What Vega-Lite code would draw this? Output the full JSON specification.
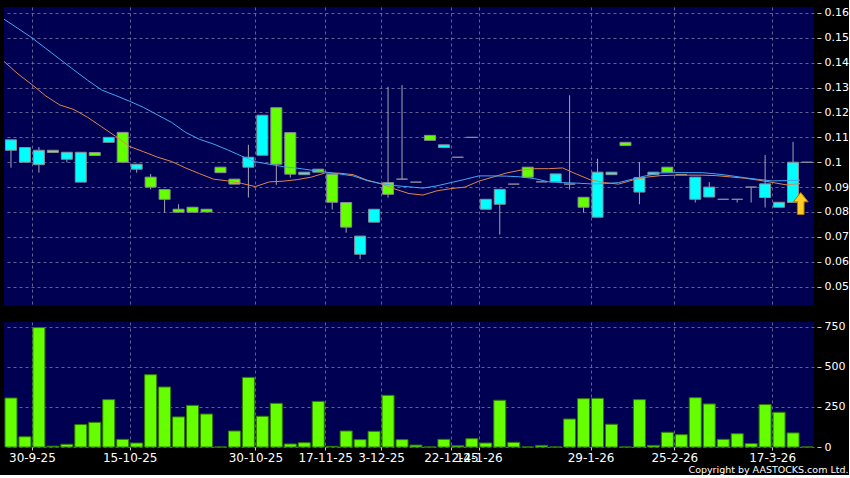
{
  "$schema": "https://vega.github.io/schema/vega-lite/v6.json",
  "background": "#000000",
  "padding": {"left": 4, "top": 6, "right": 0, "bottom": 0},
  "autosize": {"type": "pad"},
  "config": {
    "view": {"fill": "#000052", "stroke": null},
    "font": "DejaVu Sans",
    "axis": {
      "labelColor": "#ffffff",
      "labelFont": "DejaVu Sans",
      "tickColor": "#c8c8c8",
      "domain": false,
      "gridColor": "#8080a8",
      "gridDash": [3, 3],
      "gridOpacity": 0.75,
      "title": null
    }
  },
  "title": {
    "text": "Copyright by AASTOCKS.com Ltd.",
    "orient": "bottom",
    "anchor": "end",
    "color": "#ffffff",
    "font": "DejaVu Sans",
    "fontSize": 9.5,
    "fontWeight": "normal",
    "offset": 2
  },
  "datasets": {
    "candles": [
      {"i": 0, "o": 0.1048, "h": 0.1090, "l": 0.0978, "c": 0.1090, "v": 306},
      {"i": 1, "o": 0.1000, "h": 0.1059, "l": 0.1000, "c": 0.1059, "v": 64},
      {"i": 2, "o": 0.0990, "h": 0.1061, "l": 0.0958, "c": 0.1048, "v": 746},
      {"i": 3, "o": 0.1048, "h": 0.1048, "l": 0.1039, "c": 0.1039, "v": 5},
      {"i": 4, "o": 0.1012, "h": 0.1040, "l": 0.1000, "c": 0.1040, "v": 17},
      {"i": 5, "o": 0.0920, "h": 0.1040, "l": 0.0920, "c": 0.1040, "v": 140},
      {"i": 6, "o": 0.1039, "h": 0.1039, "l": 0.1027, "c": 0.1027, "v": 154},
      {"i": 7, "o": 0.1080, "h": 0.1100, "l": 0.1080, "c": 0.1100, "v": 296},
      {"i": 8, "o": 0.1120, "h": 0.1120, "l": 0.1000, "c": 0.1000, "v": 48},
      {"i": 9, "o": 0.0972, "h": 0.0992, "l": 0.0958, "c": 0.0992, "v": 25},
      {"i": 10, "o": 0.0940, "h": 0.0953, "l": 0.0891, "c": 0.0900, "v": 452},
      {"i": 11, "o": 0.0890, "h": 0.0890, "l": 0.0797, "c": 0.0851, "v": 375},
      {"i": 12, "o": 0.0811, "h": 0.0831, "l": 0.0799, "c": 0.0799, "v": 188},
      {"i": 13, "o": 0.0819, "h": 0.0819, "l": 0.0799, "c": 0.0799, "v": 260},
      {"i": 14, "o": 0.0811, "h": 0.0811, "l": 0.0800, "c": 0.0800, "v": 206},
      {"i": 15, "o": 0.0980, "h": 0.0980, "l": 0.0958, "c": 0.0958, "v": 0},
      {"i": 16, "o": 0.0932, "h": 0.0932, "l": 0.0912, "c": 0.0912, "v": 100},
      {"i": 17, "o": 0.0980, "h": 0.1070, "l": 0.0858, "c": 0.1020, "v": 435},
      {"i": 18, "o": 0.1028, "h": 0.1189, "l": 0.1028, "c": 0.1189, "v": 192},
      {"i": 19, "o": 0.1219, "h": 0.1219, "l": 0.0909, "c": 0.0992, "v": 273},
      {"i": 20, "o": 0.1119, "h": 0.1119, "l": 0.0938, "c": 0.0952, "v": 19},
      {"i": 21, "o": 0.0950, "h": 0.0960, "l": 0.0950, "c": 0.0960, "v": 27},
      {"i": 22, "o": 0.0972, "h": 0.0972, "l": 0.0960, "c": 0.0960, "v": 285},
      {"i": 23, "o": 0.0952, "h": 0.0952, "l": 0.0810, "c": 0.0839, "v": 4},
      {"i": 24, "o": 0.0838, "h": 0.0838, "l": 0.0717, "c": 0.0739, "v": 100},
      {"i": 25, "o": 0.0630, "h": 0.0703, "l": 0.0610, "c": 0.0703, "v": 46},
      {"i": 26, "o": 0.0759, "h": 0.0811, "l": 0.0759, "c": 0.0811, "v": 98},
      {"i": 27, "o": 0.0918, "h": 0.1303, "l": 0.0858, "c": 0.0871, "v": 323},
      {"i": 28, "o": 0.0932, "h": 0.1310, "l": 0.0932, "c": 0.0932, "v": 46},
      {"i": 29, "o": 0.0920, "h": 0.0920, "l": 0.0920, "c": 0.0920, "v": 12},
      {"i": 30, "o": 0.1108, "h": 0.1108, "l": 0.1088, "c": 0.1088, "v": 0},
      {"i": 31, "o": 0.1059, "h": 0.1070, "l": 0.1059, "c": 0.1070, "v": 48},
      {"i": 32, "o": 0.1020, "h": 0.1020, "l": 0.1020, "c": 0.1020, "v": 8},
      {"i": 33, "o": 0.1100, "h": 0.1100, "l": 0.1100, "c": 0.1100, "v": 52},
      {"i": 34, "o": 0.0811, "h": 0.0851, "l": 0.0811, "c": 0.0851, "v": 25},
      {"i": 35, "o": 0.0831, "h": 0.0891, "l": 0.0709, "c": 0.0891, "v": 292},
      {"i": 36, "o": 0.0912, "h": 0.0912, "l": 0.0912, "c": 0.0912, "v": 29},
      {"i": 37, "o": 0.0980, "h": 0.0980, "l": 0.0940, "c": 0.0940, "v": 0},
      {"i": 38, "o": 0.0921, "h": 0.0921, "l": 0.0921, "c": 0.0921, "v": 10},
      {"i": 39, "o": 0.0921, "h": 0.0953, "l": 0.0921, "c": 0.0953, "v": 0},
      {"i": 40, "o": 0.0912, "h": 0.1269, "l": 0.0890, "c": 0.0912, "v": 175},
      {"i": 41, "o": 0.0859, "h": 0.0859, "l": 0.0797, "c": 0.0819, "v": 302},
      {"i": 42, "o": 0.0779, "h": 0.1014, "l": 0.0779, "c": 0.0960, "v": 304},
      {"i": 43, "o": 0.0950, "h": 0.0960, "l": 0.0950, "c": 0.0960, "v": 142},
      {"i": 44, "o": 0.1080, "h": 0.1080, "l": 0.1067, "c": 0.1067, "v": 0},
      {"i": 45, "o": 0.0880, "h": 0.1001, "l": 0.0831, "c": 0.0938, "v": 296},
      {"i": 46, "o": 0.0950, "h": 0.0960, "l": 0.0950, "c": 0.0960, "v": 10},
      {"i": 47, "o": 0.0980, "h": 0.0980, "l": 0.0960, "c": 0.0960, "v": 92},
      {"i": 48, "o": 0.0950, "h": 0.0950, "l": 0.0950, "c": 0.0950, "v": 77},
      {"i": 49, "o": 0.0851, "h": 0.0940, "l": 0.0838, "c": 0.0940, "v": 308},
      {"i": 50, "o": 0.0860, "h": 0.0920, "l": 0.0860, "c": 0.0900, "v": 269},
      {"i": 51, "o": 0.0851, "h": 0.0851, "l": 0.0851, "c": 0.0851, "v": 48},
      {"i": 52, "o": 0.0851, "h": 0.0851, "l": 0.0838, "c": 0.0851, "v": 83},
      {"i": 53, "o": 0.0900, "h": 0.0900, "l": 0.0838, "c": 0.0900, "v": 21},
      {"i": 54, "o": 0.0858, "h": 0.1029, "l": 0.0818, "c": 0.0913, "v": 265},
      {"i": 55, "o": 0.0819, "h": 0.0839, "l": 0.0819, "c": 0.0839, "v": 217},
      {"i": 56, "o": 0.0838, "h": 0.1082, "l": 0.0838, "c": 0.1000, "v": 88},
      {"i": 57, "o": 0.1000, "h": 0.1000, "l": 0.1000, "c": 0.1000, "v": 0}
    ],
    "ma": [
      {"i": -1, "ma10": 0.1405, "ma20": 0.1575},
      {"i": 0, "ma10": 0.1355, "ma20": 0.1538},
      {"i": 1, "ma10": 0.1312, "ma20": 0.1500},
      {"i": 2, "ma10": 0.1266, "ma20": 0.1457},
      {"i": 3, "ma10": 0.1230, "ma20": 0.1414},
      {"i": 4, "ma10": 0.1212, "ma20": 0.1371},
      {"i": 5, "ma10": 0.1180, "ma20": 0.1329},
      {"i": 6, "ma10": 0.1142, "ma20": 0.1290},
      {"i": 7, "ma10": 0.1104, "ma20": 0.1268},
      {"i": 8, "ma10": 0.1063, "ma20": 0.1245},
      {"i": 9, "ma10": 0.1042, "ma20": 0.1220},
      {"i": 10, "ma10": 0.1020, "ma20": 0.1190},
      {"i": 11, "ma10": 0.1003, "ma20": 0.1160},
      {"i": 12, "ma10": 0.0977, "ma20": 0.1120},
      {"i": 13, "ma10": 0.0954, "ma20": 0.1092},
      {"i": 14, "ma10": 0.0932, "ma20": 0.1073},
      {"i": 15, "ma10": 0.0925, "ma20": 0.1050},
      {"i": 16, "ma10": 0.0915, "ma20": 0.1025},
      {"i": 17, "ma10": 0.0902, "ma20": 0.1002},
      {"i": 18, "ma10": 0.0921, "ma20": 0.0992},
      {"i": 19, "ma10": 0.0924, "ma20": 0.0982},
      {"i": 20, "ma10": 0.0930, "ma20": 0.0976},
      {"i": 21, "ma10": 0.0940, "ma20": 0.0968},
      {"i": 22, "ma10": 0.0957, "ma20": 0.0961},
      {"i": 23, "ma10": 0.0956, "ma20": 0.0953},
      {"i": 24, "ma10": 0.0950, "ma20": 0.0945},
      {"i": 25, "ma10": 0.0928, "ma20": 0.0926},
      {"i": 26, "ma10": 0.0913, "ma20": 0.0914},
      {"i": 27, "ma10": 0.0892, "ma20": 0.0906},
      {"i": 28, "ma10": 0.0874, "ma20": 0.0901},
      {"i": 29, "ma10": 0.0868, "ma20": 0.0896},
      {"i": 30, "ma10": 0.0885, "ma20": 0.0905},
      {"i": 31, "ma10": 0.0894, "ma20": 0.0918},
      {"i": 32, "ma10": 0.0900, "ma20": 0.0931},
      {"i": 33, "ma10": 0.0924, "ma20": 0.0945},
      {"i": 34, "ma10": 0.0940, "ma20": 0.0945},
      {"i": 35, "ma10": 0.0957, "ma20": 0.0944},
      {"i": 36, "ma10": 0.0968, "ma20": 0.0941},
      {"i": 37, "ma10": 0.0974, "ma20": 0.0934},
      {"i": 38, "ma10": 0.0974, "ma20": 0.0921},
      {"i": 39, "ma10": 0.0977, "ma20": 0.0918},
      {"i": 40, "ma10": 0.0952, "ma20": 0.0916},
      {"i": 41, "ma10": 0.0929, "ma20": 0.0913},
      {"i": 42, "ma10": 0.0918, "ma20": 0.0914},
      {"i": 43, "ma10": 0.0912, "ma20": 0.0918},
      {"i": 44, "ma10": 0.0928, "ma20": 0.0932},
      {"i": 45, "ma10": 0.0940, "ma20": 0.0946},
      {"i": 46, "ma10": 0.0946, "ma20": 0.0957},
      {"i": 47, "ma10": 0.0948, "ma20": 0.0958},
      {"i": 48, "ma10": 0.0948, "ma20": 0.0958},
      {"i": 49, "ma10": 0.0948, "ma20": 0.0958},
      {"i": 50, "ma10": 0.0946, "ma20": 0.0953},
      {"i": 51, "ma10": 0.0941, "ma20": 0.0946},
      {"i": 52, "ma10": 0.0936, "ma20": 0.0938},
      {"i": 53, "ma10": 0.0928, "ma20": 0.0931},
      {"i": 54, "ma10": 0.0919, "ma20": 0.0925},
      {"i": 55, "ma10": 0.0909, "ma20": 0.0926},
      {"i": 56, "ma10": 0.0914, "ma20": 0.0928}
    ],
    "arrow": [{"i": 56.55, "price": 0.0834}]
  },
  "spacing": 14,
  "vconcat": [
    {
      "width": 810,
      "height": 299,
      "layer": [
        {
          "data": {"name": "candles"},
          "mark": {"type": "rule", "color": "#a4a4b4", "strokeWidth": 1},
          "encoding": {
            "x": {
              "field": "i",
              "type": "quantitative",
              "scale": {"domain": [-0.5, 57.5], "nice": false, "zero": false, "padding": 0},
              "axis": {
                "values": [1.5, 8.5, 17.5, 22.5, 26.5, 31.5, 33.5, 41.5, 47.5, 54.5],
                "tickCount": 30,
                "labels": false,
                "ticks": false,
                "grid": true
              }
            },
            "y": {
              "field": "l",
              "type": "quantitative",
              "scale": {"domain": [0.0422, 0.1624], "nice": false, "zero": false},
              "axis": {
                "orient": "right",
                "values": [0.05, 0.06, 0.07, 0.08, 0.09, 0.1, 0.11, 0.12, 0.13, 0.14, 0.15, 0.16],
                "tickCount": 30,
                "format": "~g",
                "grid": true,
                "offset": 3,
                "tickSize": 4,
                "labelPadding": 3,
                "labelFontSize": 11,
                "labelOverlap": false,
                "labelBound": false,
                "labelFlush": false
              }
            },
            "y2": {"field": "h"}
          }
        },
        {
          "data": {"name": "candles"},
          "mark": {"type": "bar", "size": 11, "stroke": "#8c8c96", "strokeWidth": 1},
          "encoding": {
            "x": {"field": "i", "type": "quantitative"},
            "y": {"field": "o", "type": "quantitative"},
            "y2": {"field": "c"},
            "fill": {
              "condition": [
                {"test": "datum.c > datum.o", "value": "#00ffff"},
                {"test": "datum.c < datum.o", "value": "#66ff00"}
              ],
              "value": "#b4b4c0"
            }
          }
        },
        {
          "data": {"name": "ma"},
          "mark": {"type": "line", "color": "#e0844c", "strokeWidth": 1, "xOffset": 7, "clip": true},
          "encoding": {
            "x": {"field": "i", "type": "quantitative"},
            "y": {"field": "ma10", "type": "quantitative"}
          }
        },
        {
          "data": {"name": "ma"},
          "mark": {"type": "line", "color": "#3fa9f5", "strokeWidth": 1, "xOffset": 7, "clip": true},
          "encoding": {
            "x": {"field": "i", "type": "quantitative"},
            "y": {"field": "ma20", "type": "quantitative"}
          }
        },
        {
          "data": {"name": "arrow"},
          "mark": {
            "type": "point",
            "shape": "M0,-1L0.68,-0.15L0.3,-0.15L0.3,1L-0.3,1L-0.3,-0.15L-0.68,-0.15Z",
            "size": 484,
            "filled": true,
            "fill": "#ffcc22",
            "stroke": "#b07800",
            "strokeWidth": 1,
            "opacity": 1
          },
          "encoding": {
            "x": {"field": "i", "type": "quantitative"},
            "y": {"field": "price", "type": "quantitative"}
          }
        }
      ]
    },
    {
      "width": 810,
      "height": 125,
      "data": {"name": "candles"},
      "mark": {"type": "bar", "size": 12, "fill": "#66ff00", "stroke": "#2f7a00", "strokeWidth": 1},
      "encoding": {
        "x": {
          "field": "i",
          "type": "quantitative",
          "scale": {"domain": [-0.5, 57.5], "nice": false, "zero": false, "padding": 0},
          "axis": {
            "values": [1.5, 8.5, 17.5, 22.5, 26.5, 31.5, 33.5, 41.5, 47.5, 54.5],
            "tickCount": 30,
            "grid": true,
            "ticks": true,
            "tickSize": 3,
            "labelPadding": 2,
            "labelFontSize": 12,
            "labelOverlap": false,
            "labelFlush": false,
            "labelExpr": "datum.value == 1.5 ? '30-9-25' : datum.value == 8.5 ? '15-10-25' : datum.value == 17.5 ? '30-10-25' : datum.value == 22.5 ? '17-11-25' : datum.value == 26.5 ? '3-12-25' : datum.value == 31.5 ? '22-12-25' : datum.value == 33.5 ? '14-1-26' : datum.value == 41.5 ? '29-1-26' : datum.value == 47.5 ? '25-2-26' : '17-3-26'"
          }
        },
        "y": {
          "field": "v",
          "type": "quantitative",
          "scale": {"domain": [0, 781], "nice": false},
          "axis": {
            "orient": "right",
            "values": [0, 250, 500, 750],
            "tickCount": 10,
            "grid": true,
            "offset": 3,
            "tickSize": 4,
            "labelPadding": 3,
            "labelFontSize": 11,
            "labelOverlap": false,
            "labelFlush": false
          }
        }
      }
    }
  ]
}
